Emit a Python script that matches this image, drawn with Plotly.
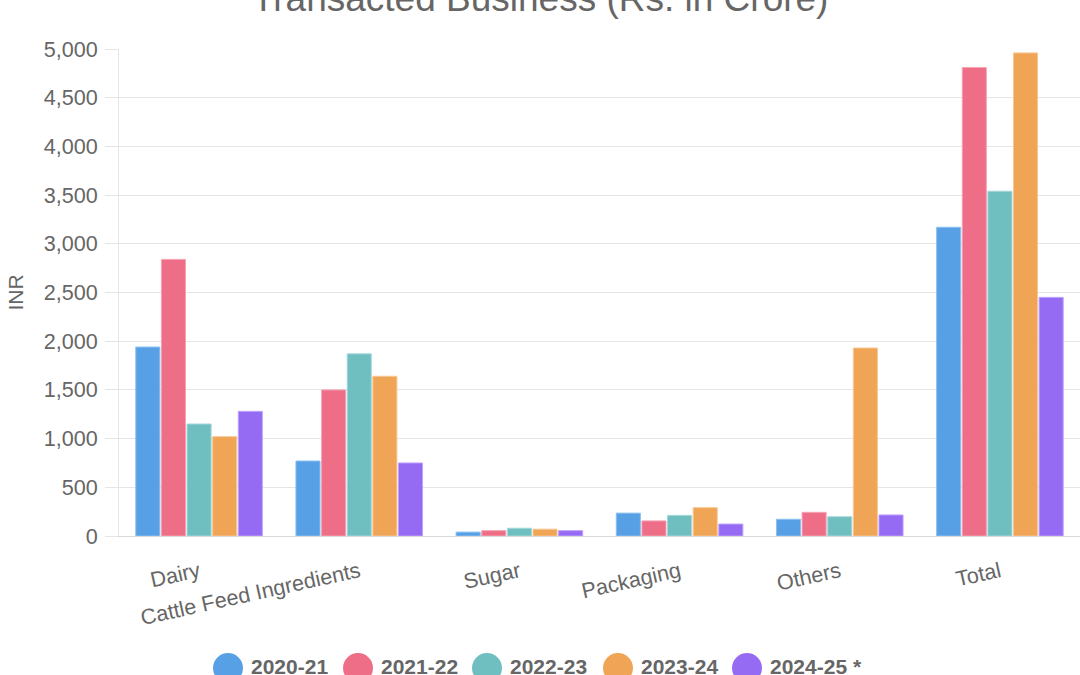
import plotly.graph_objects as go

categories = ["Dairy", "Cattle Feed Ingredients", "Sugar", "Packaging", "Others", "Total"]
series_names = ["2020-21", "2021-22", "2022-23", "2023-24", "2024-25 *"]
v_2020_21 = [1940, 770, 40, 235, 172, 3170]
v_2021_22 = [2840, 1500, 55, 155, 243, 4810]
v_2022_23 = [1150, 1870, 80, 212, 198, 3540]
v_2023_24 = [1020, 1640, 70, 291, 1930, 4960]
v_2024_25 = [1280, 750, 55, 123, 216, 2450]
series_values = [v_2020_21, v_2021_22, v_2022_23, v_2023_24, v_2024_25]
colors = ["#57A0E5", "#ED6E86", "#6FBEC0", "#F0A455", "#966BF4"]
borders = ["#8CC0F0", "#F5A3B3", "#A6D8DA", "#F8C794", "#BDA3FA"]

FONT = "Liberation Sans, Arial, Helvetica, sans-serif"
GREY = "#666666"

fig = go.Figure()
for name, vals, c, b in zip(series_names, series_values, colors, borders):
    fig.add_trace(go.Bar(
        x=categories, y=vals, name=name,
        marker=dict(color=c, line=dict(color=b, width=1)),
        showlegend=False,
        hovertemplate="%{x}<br>" + name + ": %{y:,}<extra></extra>",
    ))

# Custom legend (circles + bold labels) placed below the plot
W, H = 1080, 675
ml, mr, mt, mb = 119, 0, 49, 139
pw, ph = W - ml - mr, H - mt - mb
legend_cx = [228, 358, 487, 618, 747]
legend_cy = 668
rad = 15
shapes = []
annotations = []
for name, c, cx in zip(series_names, colors, legend_cx):
    x0 = (cx - rad - ml) / pw
    x1 = (cx + rad - ml) / pw
    y0 = (H - mb - (legend_cy + rad)) / ph
    y1 = (H - mb - (legend_cy - rad)) / ph
    shapes.append(dict(type="circle", xref="paper", yref="paper",
                       x0=x0, x1=x1, y0=y0, y1=y1,
                       fillcolor=c, line=dict(color=c, width=0)))
    annotations.append(dict(xref="paper", yref="paper",
                            x=(cx + rad + 6 - ml) / pw,
                            y=(H - mb - (legend_cy - 2)) / ph,
                            xanchor="left", yanchor="middle", showarrow=False,
                            text="<b>" + name + "</b>",
                            font=dict(family=FONT, size=21, color=GREY)))

# Title placed as an annotation so it can sit partly above the page edge
annotations.append(dict(xref="paper", yref="paper",
                        x=(W / 2 - ml) / pw, y=(H - mb + 1) / ph,
                        xanchor="center", yanchor="middle", showarrow=False,
                        text="Transacted Business (Rs. in Crore)",
                        font=dict(family=FONT, size=37, color=GREY)))

fig.update_layout(
    width=W, height=H,
    margin=dict(l=ml, r=mr, t=mt, b=mb, pad=0),
    paper_bgcolor="white", plot_bgcolor="white",
    font=dict(family=FONT, color=GREY, size=21),
    barmode="group", bargap=0.2, bargroupgap=0.06,
    shapes=shapes, annotations=annotations,
    xaxis=dict(tickangle=-12.5, showgrid=False, showline=True,
               linecolor="#d9d9d9", linewidth=1, ticks="",
               ticklabelstandoff=14,
               tickfont=dict(family=FONT, size=21.6, color=GREY)),
    yaxis=dict(range=[0, 5000], dtick=500, tickformat=",",
               showgrid=True, gridcolor="#e5e5e5", gridwidth=1,
               showline=True, linecolor="#e5e5e5", linewidth=1,
               ticks="outside", ticklen=13, tickcolor="#e5e5e5",
               ticklabelstandoff=3,
               zeroline=False,
               tickfont=dict(family=FONT, size=21.6, color=GREY),
               title=dict(text="INR", standoff=14,
                          font=dict(family=FONT, size=21, color=GREY))),
)

fig.write_html("out.html")
